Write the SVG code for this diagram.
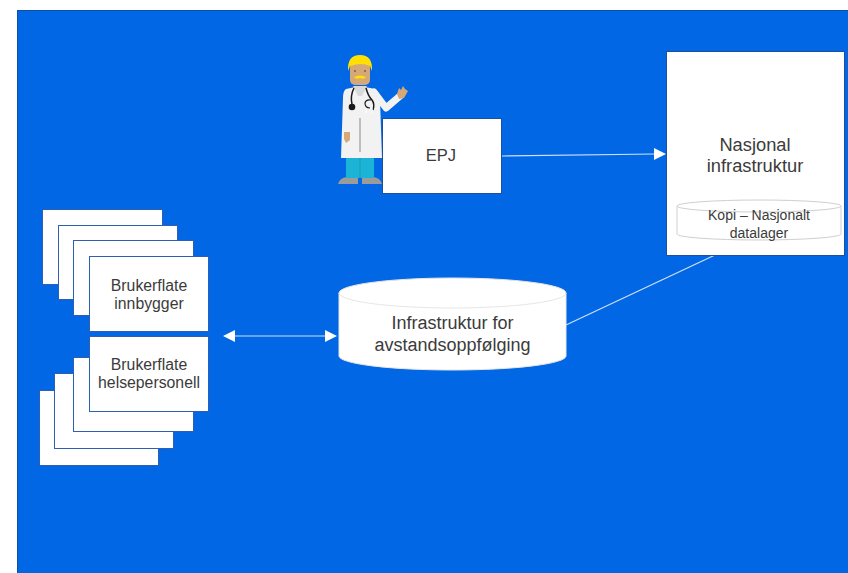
<svg xmlns="http://www.w3.org/2000/svg" width="848" height="573" viewBox="0 0 848 573">
  <style>
    .card { fill: #ffffff; stroke: #2f5fb3; stroke-width: 1; }
    .box { fill: #ffffff; stroke: #1d4f9e; stroke-width: 1; }
    .lbl { font-family: "Liberation Sans", Arial, sans-serif; fill: #3b3b3b; text-anchor: middle; }
    .conn { stroke: #cfe0fb; stroke-width: 1.2; fill: none; }
    .head { fill: #ffffff; }
  </style>

  <!-- background -->
  <rect x="0" y="0" width="848" height="573" fill="#ffffff"/>
  <rect x="17.5" y="10.5" width="840" height="570" fill="#0167e5" stroke="#0a4fa8" stroke-width="1"/>

  <!-- doctor figure -->
  <g id="doctor">
    <!-- shoes -->
    <path d="M338 184 Q340 177 348 177 L358 177 L358 184 Z" fill="#9b9b9b"/>
    <path d="M362 177 L372 177 Q380 177 382 184 L362 184 Z" fill="#9b9b9b"/>
    <!-- trousers -->
    <rect x="346" y="156" width="28" height="22" fill="#1cb4d6"/>
    <line x1="360" y1="158" x2="360" y2="178" stroke="#1699b8" stroke-width="1"/>
    <!-- raised arm -->
    <path d="M374 92 L386 108 L400 96" fill="none" stroke="#f2f2f2" stroke-width="7" stroke-linecap="round" stroke-linejoin="round"/>
    <path d="M397 94 L399 88 L401 90 L403 86 L405 89 L408 91 L404 98 L399 99 Z" fill="#d6a878"/>
    <!-- coat -->
    <path d="M346 89 Q360 85 375 89 Q380 92 380 100 L382 158 L341 158 L343 98 Q343 91 346 89 Z" fill="#f2f2f2"/>
    <line x1="360" y1="118" x2="360" y2="152" stroke="#9a9a9a" stroke-width="1.2"/>
    <!-- hand at side -->
    <path d="M344 132 L350 132 L350 140 L346 143 L344 139 Z" fill="#d6a878"/>
    <!-- neck/collar -->
    <path d="M353 86 L367 86 L362 96 L358 96 Z" fill="#d9d9d9"/>
    <!-- face -->
    <rect x="350" y="62" width="20" height="23" rx="5" fill="#d6a878"/>
    <!-- hair -->
    <path d="M348 71 Q347 55 360 55 Q373 55 372 71 L370 66 Q362 62 350 66 Z" fill="#ffe000"/>
    <!-- eyes -->
    <circle cx="355" cy="71" r="0.9" fill="#6b5a44"/>
    <circle cx="365" cy="71" r="0.9" fill="#6b5a44"/>
    <!-- moustache -->
    <path d="M354 77 Q360 74 366 77 Q364 80 360 78 Q356 80 354 77 Z" fill="#ffe000"/>
    <!-- stethoscope -->
    <path d="M354 88 Q350 96 352 104" fill="none" stroke="#1a1a1a" stroke-width="1.5"/>
    <circle cx="352" cy="107" r="3.3" fill="#1a1a1a"/>
    <path d="M366 88 Q368 96 372 100 Q375 104 373 110" fill="none" stroke="#1a1a1a" stroke-width="1.5"/>
    <path d="M370 108 Q365 108 365 103 Q366 99 371 100" fill="none" stroke="#1a1a1a" stroke-width="1.2"/>
    <path d="M366 108 L366 113 M372 108 L372 113" stroke="#ffffff" stroke-width="1"/>
  </g>

  <!-- connectors -->
  <g id="connectors">
    <line class="conn" x1="502" y1="156" x2="655" y2="154"/>
    <polygon class="head" points="666,154 654,148 654,160"/>
    <line class="conn" x1="715" y1="255" x2="566" y2="325"/>
    <line class="conn" x1="234" y1="336" x2="326" y2="336"/>
    <polygon class="head" points="223,336 235,330 235,342"/>
    <polygon class="head" points="337,336 325,330 325,342"/>
  </g>

  <!-- EPJ -->
  <g id="epj">
    <rect class="box" x="382.5" y="118.5" width="119" height="75"/>
    <text class="lbl" x="441" y="161" font-size="16.5">EPJ</text>
  </g>

  <!-- national infrastructure -->
  <g id="nasjonal">
    <rect class="box" x="666.5" y="51.5" width="178" height="204"/>
    <text class="lbl" x="755" y="151" font-size="18.3">Nasjonal</text>
    <text class="lbl" x="755" y="172" font-size="18.3">infrastruktur</text>
    <g id="kopi">
      <path d="M677 206 L677 234 A82 6 0 0 0 841 234 L841 206" fill="#ffffff" stroke="#cfcfcf" stroke-width="1"/>
      <ellipse cx="759" cy="206" rx="82" ry="6" fill="#ffffff" stroke="#cfcfcf" stroke-width="1"/>
      <text class="lbl" x="759" y="220" font-size="14">Kopi – Nasjonalt</text>
      <text class="lbl" x="759" y="238" font-size="14">datalager</text>
    </g>
  </g>

  <!-- remote follow-up infrastructure -->
  <g id="avstand">
    <path d="M339 293 L339 356 A113.5 14 0 0 0 566 356 L566 293" fill="#ffffff" stroke="#e6e6e6" stroke-width="1"/>
    <ellipse cx="452.5" cy="293" rx="113.5" ry="15" fill="#ffffff" stroke="#e6e6e6" stroke-width="1"/>
    <text class="lbl" x="452.5" y="329" font-size="18">Infrastruktur for</text>
    <text class="lbl" x="452.5" y="351" font-size="18">avstandsoppfølging</text>
  </g>

  <!-- citizen UI stack -->
  <g id="brukerflate-innbygger">
    <rect class="card" x="42.5" y="209.5" width="120" height="75"/>
    <rect class="card" x="58.5" y="225.5" width="119" height="74"/>
    <rect class="card" x="73.5" y="240.5" width="120" height="75"/>
    <rect class="card" x="89.5" y="256.5" width="119" height="75"/>
    <text class="lbl" x="149" y="291" font-size="15.8">Brukerflate</text>
    <text class="lbl" x="149" y="309" font-size="15.8">innbygger</text>
  </g>

  <!-- health personnel UI stack -->
  <g id="brukerflate-helsepersonell">
    <rect class="card" x="39.5" y="390.5" width="119" height="75"/>
    <rect class="card" x="54.5" y="373.5" width="119" height="75"/>
    <rect class="card" x="73.5" y="357.5" width="120" height="74"/>
    <rect class="card" x="89.5" y="336.5" width="119" height="75"/>
    <text class="lbl" x="149" y="370" font-size="15.8">Brukerflate</text>
    <text class="lbl" x="149" y="388" font-size="15.8">helsepersonell</text>
  </g>
</svg>
